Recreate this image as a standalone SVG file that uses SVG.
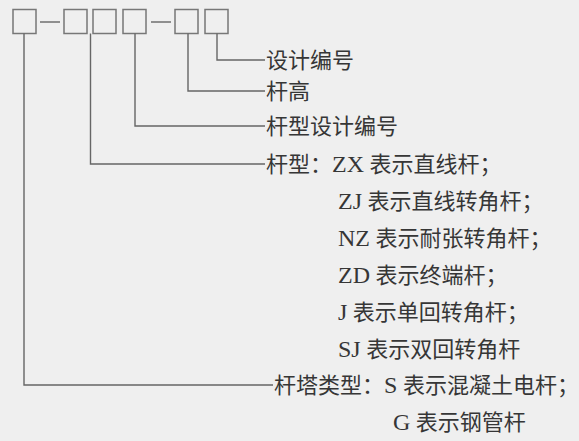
<svg xmlns="http://www.w3.org/2000/svg" width="579" height="441" viewBox="0 0 579 441">
<style>
.bx{fill:none;stroke:#777;stroke-width:1.5}
.ln{fill:none;stroke:#666;stroke-width:1.4}
.t{font-family:"Liberation Serif","Noto Sans CJK SC",serif;font-size:22px;fill:#363636}
.l{font-size:24px}
</style>
<rect x="0" y="0" width="579" height="441" fill="#efefef"/>
<g id="code">
<rect class="bx" x="13" y="9.5" width="23" height="24"/>
<line class="ln" x1="40" y1="22" x2="60" y2="22"/>
<rect class="bx" x="64" y="9.5" width="23" height="24"/>
<rect class="bx" x="93" y="9.5" width="23" height="24"/>
<rect class="bx" x="123" y="9.5" width="23" height="24"/>
<line class="ln" x1="151" y1="22" x2="171" y2="22"/>
<rect class="bx" x="175" y="9.5" width="23" height="24"/>
<rect class="bx" x="205" y="9.5" width="23" height="24"/>
</g>
<g id="connectors">
<polyline class="ln" points="217,33.5 217,60 265,60"/>
<polyline class="ln" points="188,33.5 188,91 265,91"/>
<polyline class="ln" points="135,33.5 135,126 265,126"/>
<polyline class="ln" points="90.5,33.5 90.5,164 265,164"/>
<polyline class="ln" points="24,33.5 24,385 273,385"/>
</g>
<g id="label-design"><text class="t" x="266" y="68">设计编号</text></g>
<g id="label-height"><text class="t" x="266" y="99">杆高</text></g>
<g id="label-typedesign"><text class="t" x="266" y="134">杆型设计编号</text></g>
<g id="label-type">
<text class="t" x="266" y="172">杆型：<tspan class="l">ZX</tspan> 表示直线杆；</text>
<text class="t" x="338" y="209"><tspan class="l">ZJ</tspan> 表示直线转角杆；</text>
<text class="t" x="338" y="246"><tspan class="l">NZ</tspan> 表示耐张转角杆；</text>
<text class="t" x="338" y="283"><tspan class="l">ZD</tspan> 表示终端杆；</text>
<text class="t" x="338" y="320"><tspan class="l">J</tspan> 表示单回转角杆；</text>
<text class="t" x="338" y="357"><tspan class="l">SJ</tspan> 表示双回转角杆</text>
</g>
<g id="label-tower">
<text class="t" x="274" y="393">杆塔类型：<tspan class="l">S</tspan> 表示混凝土电杆；</text>
<text class="t" x="393" y="430"><tspan class="l">G</tspan> 表示钢管杆</text>
</g>
</svg>
